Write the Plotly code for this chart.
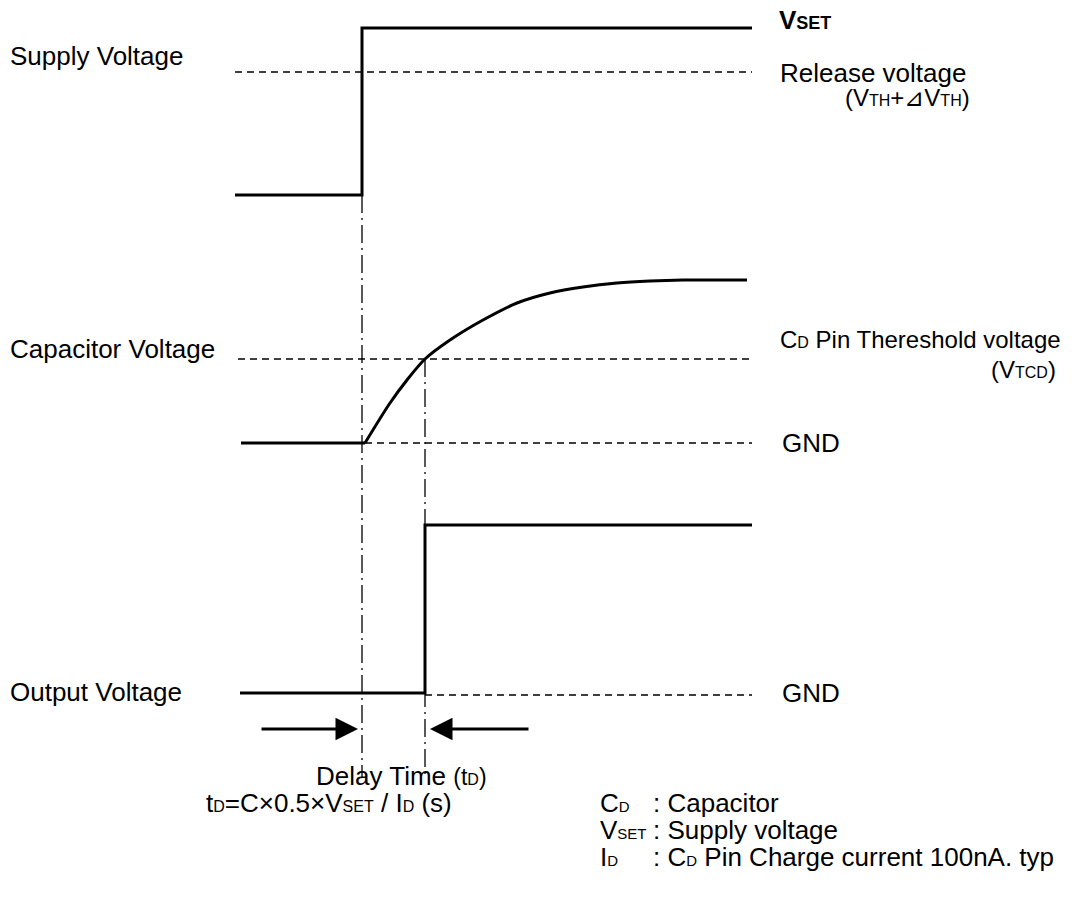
import plotly.graph_objects as go

# ---- timing points (canvas units) ----
t_start_supply = 235
t_start_cap = 241
t_start_out = 240
t_power_on = 362      # supply rises
t_delay_end = 425     # output rises
t_end = 752

# ---- signal levels ----
supply_low = 195
supply_high = 28
release_level = 72
cap_gnd = 443
cap_threshold = 359
out_low = 693
out_high = 525
out_gnd = 695

# capacitor charging curve
cap_curve_x = [365, 390, 407, 425, 450, 483, 517, 550, 583, 617, 650, 683, 747]
cap_curve_y = [443, 403, 380, 359, 340, 320, 303, 293, 287, 283, 281, 280, 280]

arrow_level = 729
arrow_left_tail = 260
arrow_right_tail = 530
vline_bottom = 778
cap_vline_top = cap_threshold

FONT = "Liberation Sans, Arial, Helvetica, sans-serif"
BLACK = "#000000"
SUB = '<span style="font-size:16px">{}</span>'

fig = go.Figure()

def line(xs, ys, width=3, dash="solid"):
    fig.add_trace(go.Scatter(x=xs, y=ys, mode="lines",
                             line=dict(color=BLACK, width=width, dash=dash),
                             hoverinfo="skip", showlegend=False))

DASH = "7px,5px"
DASHDOT = "18px,5px,2px,5px"

# supply voltage
line([t_start_supply, t_end], [release_level, release_level], 1.3, DASH)
line([t_start_supply, t_power_on, t_power_on, t_end],
     [supply_low, supply_low, supply_high, supply_high])

# dash-dot guides
line([t_power_on, t_power_on], [supply_low, vline_bottom], 1.3, DASHDOT)
line([t_delay_end, t_delay_end], [cap_vline_top, vline_bottom], 1.3, DASHDOT)

# capacitor voltage
line([t_start_supply + 3, t_end], [cap_threshold, cap_threshold], 1.3, DASH)
line([cap_curve_x[0], t_end], [cap_gnd, cap_gnd], 1.3, DASH)
line([t_start_cap, cap_curve_x[0]], [cap_gnd, cap_gnd])
fig.add_trace(go.Scatter(x=cap_curve_x, y=cap_curve_y, mode="lines",
                         line=dict(color=BLACK, width=3, shape="spline", smoothing=0.8),
                         hoverinfo="skip", showlegend=False))

# output voltage
line([t_delay_end, t_end], [out_gnd, out_gnd], 1.3, DASH)
line([t_start_out, t_delay_end, t_delay_end, t_end],
     [out_low, out_low, out_high, out_high])

# arrows
for tail, head in [(arrow_left_tail, t_power_on - 4), (arrow_right_tail, t_delay_end + 5)]:
    fig.add_annotation(x=head, y=arrow_level, ax=tail, ay=arrow_level,
                       xref="x", yref="y", axref="x", ayref="y",
                       showarrow=True, arrowhead=2, arrowsize=1.5, arrowwidth=3,
                       arrowcolor=BLACK, standoff=0, text="")

def label(x, y, text, anchor="left", size=26, yanchor="middle"):
    fig.add_annotation(x=x, y=y, xref="x", yref="y", text=text, showarrow=False,
                       xanchor=anchor, yanchor=yanchor,
                       font=dict(family=FONT, size=size, color=BLACK))

label(8, 56, "Supply Voltage")
label(8, 349, "Capacitor Voltage")
label(8, 692, "Output Voltage")

label(777, 20, "<b>V" + '<span style="font-size:18px">SET</span></b>')
label(778, 73, "Release voltage")
label(843, 97, "(V" + SUB.format("TH") + "+⊿V" + SUB.format("TH") + ")", size=24)

label(778, 339, "C" + SUB.format("D") + " Pin Thereshold voltage", size=24)
label(1058, 369, "(V" + SUB.format("TCD") + ")", anchor="right", size=24)
label(780, 443, "GND")
label(780, 693, "GND")

label(314, 776, "Delay Time " + '<span style="font-size:23px">(t</span>' + SUB.format("D") + '<span style="font-size:23px">)</span>')
label(204, 803, "t" + SUB.format("D") + "=C×0.5×V" + SUB.format("SET") + " / I" + SUB.format("D") + " (s)")

LSUB = '<span style="font-size:15px">{}</span>'
label(598, 803, "C" + LSUB.format("D"))
label(651, 803, ": Capacitor")
label(598, 830, "V" + LSUB.format("SET"))
label(651, 830, ": Supply voltage")
label(598, 857, "I" + LSUB.format("D"))
label(651, 857, ": C" + LSUB.format("D") + " Pin Charge current 100nA. typ")

# page body has an 8px margin: shift the plotting window so canvas units = screen pixels
fig.update_xaxes(range=[8, 1085], visible=False, fixedrange=True)
fig.update_yaxes(range=[909, 8], visible=False, fixedrange=True)
fig.update_layout(width=1077, height=901, margin=dict(l=0, r=0, t=0, b=0),
                  paper_bgcolor="white", plot_bgcolor="white", showlegend=False)

fig.write_html("out.html")
